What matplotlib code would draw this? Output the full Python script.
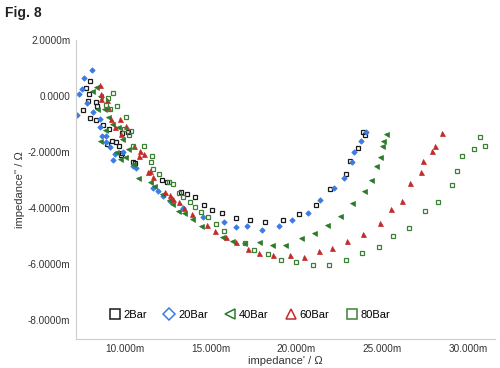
import numpy as np
import matplotlib
matplotlib.use('Agg')
import matplotlib.pyplot as plt
from matplotlib.ticker import FuncFormatter
from matplotlib.lines import Line2D

# values in milli-ohm
x2 = [23.87, 23.97, 23.58, 23.14, 22.87, 21.97, 21.12, 20.17, 19.23, 18.15, 17.27, 16.49, 15.68,
      15.10, 14.62, 14.09, 13.66, 13.28, 12.45, 12.18, 10.58, 10.48, 9.87, 9.67, 9.52, 8.98, 10.19,
      9.87, 9.09, 8.75, 8.32, 7.98, 8.31, 7.88, 7.59, 7.92, 7.73, 7.98, 8.40, 9.25, 9.80]
y2 = [-1.29, -1.39, -1.86, -2.31, -2.78, -3.32, -3.88, -4.21, -4.42, -4.50, -4.43, -4.36, -4.19,
      -4.06, -3.89, -3.61, -3.50, -3.42, -3.08, -3.00, -2.40, -2.35, -2.04, -1.80, -1.65, -1.71, -1.30,
      -1.32, -1.18, -1.03, -0.86, -0.80, -0.20, -0.18, -0.50, 0.06, 0.28, 0.55, -0.36, -1.60, -2.10]

x20 = [24.06, 23.74, 23.34, 23.24, 22.76, 22.20, 21.39, 20.65, 19.73, 18.98, 17.99, 17.13, 16.49,
       15.78, 14.57, 13.41, 12.64, 12.21, 11.92, 11.64, 10.64, 10.48, 9.90, 9.42, 9.32, 9.13, 8.94,
       8.90, 8.71, 8.55, 8.55, 8.17, 7.82, 7.36, 7.24, 7.50, 7.65, 8.08]
y20 = [-1.28, -1.61, -1.99, -2.37, -2.93, -3.30, -3.71, -4.17, -4.43, -4.64, -4.78, -4.66, -4.69,
       -4.51, -4.31, -4.01, -3.74, -3.56, -3.40, -3.30, -2.57, -2.49, -2.01, -2.07, -2.28, -1.83, -1.65,
       -1.42, -1.42, -1.12, -0.82, -0.58, -0.23, 0.07, -0.68, 0.25, 0.63, 0.94]

x40 = [25.19, 25.03, 24.99, 24.86, 24.64, 24.34, 23.91, 23.25, 22.56, 21.79, 21.02, 20.25, 19.35,
       18.57, 17.84, 16.94, 16.26, 15.68, 14.43, 13.95, 13.47, 13.08, 12.76, 12.56, 12.18, 11.73,
       11.49, 10.77, 9.52, 8.55, 8.32, 8.09, 8.55, 8.79, 8.38, 9.02, 9.25, 9.60, 8.84, 9.83, 10.17,
       10.00, 9.71, 10.46]
y40 = [-1.36, -1.62, -1.80, -2.18, -2.51, -3.01, -3.39, -3.83, -4.29, -4.61, -4.89, -5.07, -5.32,
       -5.32, -5.20, -5.25, -5.17, -5.03, -4.63, -4.39, -4.19, -4.10, -3.86, -3.70, -3.50, -3.20,
       -3.08, -2.93, -2.01, -1.60, 0.32, 0.18, 0.00, -0.46, -0.46, -0.75, -1.00, -1.11, -1.21, -1.54,
       -1.89, -2.18, -2.25, -2.43]

x60 = [28.50, 28.09, 27.92, 27.38, 27.23, 26.61, 26.13, 25.51, 24.86, 23.86, 22.97, 22.10, 21.31,
       20.42, 19.61, 18.63, 17.84, 17.17, 16.51, 15.88, 15.26, 14.78, 13.95, 13.47, 13.18, 12.83,
       12.64, 12.37, 11.64, 11.45, 11.35, 11.10, 10.83, 10.87, 10.54, 10.06, 9.75, 9.42, 9.23, 9.03,
       8.98, 8.65, 8.60, 8.55, 9.81]
y60 = [-1.32, -1.78, -1.96, -2.33, -2.70, -3.12, -3.74, -4.04, -4.53, -4.92, -5.19, -5.43, -5.54,
       -5.74, -5.67, -5.67, -5.61, -5.46, -5.23, -5.05, -4.81, -4.61, -4.21, -4.01, -3.80, -3.68,
       -3.54, -3.42, -2.90, -2.67, -2.70, -2.07, -2.13, -1.95, -1.78, -1.06, -0.82, -1.12, -0.82, -0.40,
       -0.14, -0.11, 0.07, 0.39, -1.36]

x80 = [30.97, 30.68, 30.35, 29.65, 29.32, 29.06, 28.27, 27.47, 26.55, 25.62, 24.78, 23.80, 22.87,
       21.87, 20.97, 19.96, 19.12, 18.32, 17.55, 16.99, 15.78, 15.30, 14.87, 14.47, 14.09, 13.82,
       13.37, 13.14, 12.79, 12.60, 12.02, 11.64, 11.54, 11.58, 11.10, 10.48, 10.25, 10.39, 9.94,
       10.06, 9.55, 9.13, 8.90, 9.32, 9.02]
y80 = [-1.78, -1.45, -1.89, -2.14, -2.67, -3.17, -3.78, -4.11, -4.71, -5.00, -5.38, -5.61, -5.85,
       -6.03, -6.03, -5.93, -5.86, -5.65, -5.50, -5.25, -4.81, -4.57, -4.31, -4.15, -3.98, -3.80,
       -3.62, -3.46, -3.15, -3.06, -2.79, -2.61, -2.35, -2.13, -1.78, -1.80, -1.38, -1.24, -1.18,
       -0.76, -0.35, -0.46, -0.32, 0.10, -0.08]

labels = ['2Bar', '20Bar', '40Bar', '60Bar', '80Bar']
c_black, c_blue, c_green, c_red, c_green2 = '#1a1a1a', '#3b7be3', '#2b7a2b', '#c42a2a', '#3c8034'

plt.rcParams['font.family'] = ['Liberation Sans', 'DejaVu Sans']
fig = plt.figure(figsize=(5, 3.68), dpi=100)
ax = fig.add_axes([0.152, 0.079, 0.838, 0.812])

ax.plot(x2, y2, 's', ms=3.3, mfc='none', mec=c_black, mew=0.9, ls='none')
ax.plot(x20, y20, 'D', ms=2.8, mfc=c_blue, mec=c_blue, mew=0.5, ls='none')
ax.plot(x40, y40, '<', ms=3.6, mfc=c_green, mec=c_green, mew=0.5, ls='none')
ax.plot(x60, y60, '^', ms=3.6, mfc=c_red, mec=c_red, mew=0.5, ls='none')
ax.plot(x80, y80, 's', ms=3.3, mfc='none', mec=c_green2, mew=0.9, ls='none')

ax.set_xlim(7.17, 31.56)
ax.set_ylim(-8.68, 2.0)
ax.set_xticks([10, 15, 20, 25, 30])
ax.set_yticks([2, 0, -2, -4, -6, -8])
ax.xaxis.set_major_formatter(FuncFormatter(lambda v, p: '%.3fm' % v))
ax.yaxis.set_major_formatter(FuncFormatter(lambda v, p: '0.0000' if abs(v) < 1e-9 else '%.4fm' % v))
ax.tick_params(length=0, labelsize=7.2, colors='#333333', pad=4)
for s in ['top', 'right']:
    ax.spines[s].set_visible(False)
for s in ['left', 'bottom']:
    ax.spines[s].set_color('#cccccc')
    ax.spines[s].set_linewidth(0.8)

ax.set_xlabel("impedance' / \u03a9", fontsize=8, color='#333333', labelpad=1)
ax.set_ylabel("impedance'' / \u03a9", fontsize=8, color='#333333', labelpad=2)

handles = [
    Line2D([], [], marker='s', ls='none', ms=7, mfc='none', mec=c_black, mew=1.1),
    Line2D([], [], marker='D', ls='none', ms=6.5, mfc='none', mec=c_blue, mew=1.1),
    Line2D([], [], marker='<', ls='none', ms=7, mfc='none', mec=c_green, mew=1.1),
    Line2D([], [], marker='^', ls='none', ms=7, mfc='none', mec=c_red, mew=1.1),
    Line2D([], [], marker='s', ls='none', ms=7, mfc='none', mec=c_green2, mew=1.1),
]
ax.legend(handles, labels, loc='lower left', bbox_to_anchor=(0.055, 0.03), ncol=5, frameon=False,
          fontsize=8, handletextpad=0.3, columnspacing=1.5, handlelength=1.0)

fig.text(0.01, 0.955, 'Fig. 8', fontsize=10, fontweight='bold', color='#222222')

fig.savefig('out.png', dpi=100)
